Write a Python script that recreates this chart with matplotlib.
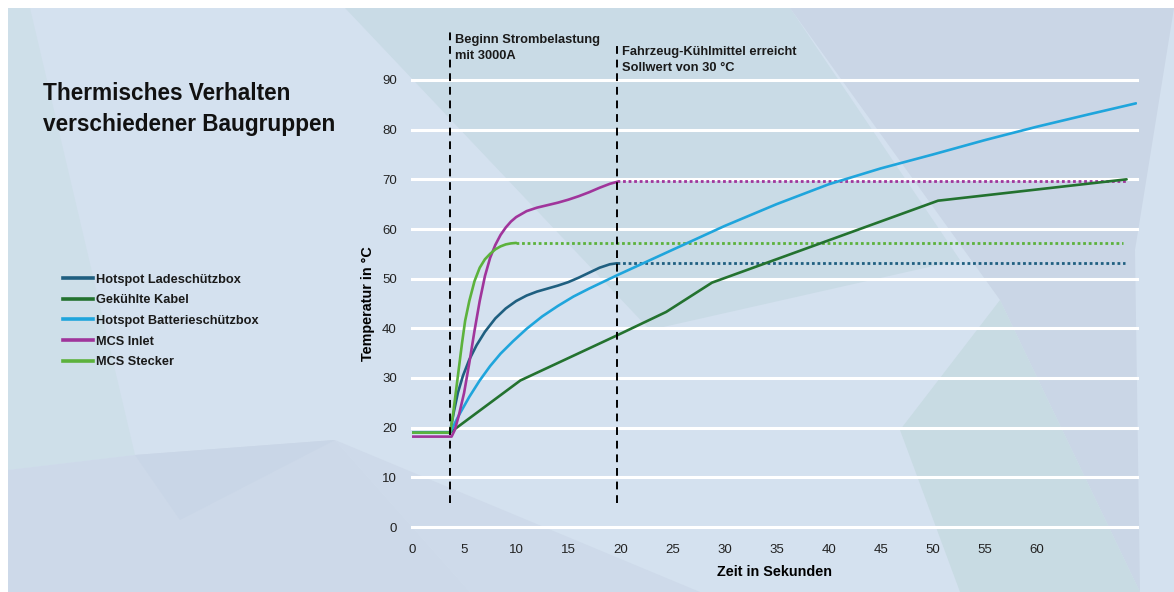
import matplotlib
matplotlib.use("Agg")
import matplotlib.pyplot as plt
from matplotlib.patches import Polygon
from matplotlib.lines import Line2D

# ---------------- data ----------------
x_ticks = [0, 5, 10, 15, 20, 25, 30, 35, 40, 45, 50, 55, 60]
y_ticks = [0, 10, 20, 30, 40, 50, 60, 70, 80, 90]

series_names = ["Hotspot Ladeschützbox", "Gekühlte Kabel", "Hotspot Batterieschützbox",
                "MCS Inlet", "MCS Stecker"]

lade_x = [0, 3.65, 4.0, 4.4, 4.9, 5.5, 6.2, 7, 8, 9, 10, 11, 12, 13, 14, 15, 16, 17, 18,
          19, 19.7]
lade_y = [19, 19, 23, 27, 30.5, 33.7, 36.6, 39.3, 42, 44, 45.5, 46.6, 47.4, 48, 48.6,
          49.3, 50.2, 51.2, 52.2, 52.9, 53.1]

kabel_x = [0, 3.65, 10.4, 19.7, 24.4, 28.8, 50.5, 68.6]
kabel_y = [19, 19, 29.5, 38.6, 43.3, 49.2, 65.7, 70.0]

batt_x = [0, 3.65, 4.5, 5.5, 6.5, 7.5, 8.5, 9.7, 11, 12.5, 14, 15.5, 17, 18.5, 19.7, 25,
          30, 35, 40, 45, 50, 55, 60, 65, 69.5]
batt_y = [19, 19, 22.5, 26.2, 29.5, 32.4, 34.9, 37.4, 39.9, 42.4, 44.5, 46.4, 48.0, 49.5,
          50.7, 55.8, 60.6, 65.0, 69.0, 72.2, 75.0, 77.9, 80.6, 83.1, 85.3]

inlet_x = [0, 3.8, 4.1, 4.5, 5, 5.5, 6, 6.5, 7, 7.5, 8, 8.5, 9, 9.5, 10, 11, 12, 13, 14,
           15, 16, 17, 18, 19, 19.7]
inlet_y = [18.2, 18.2, 19.5, 22.5, 27, 33, 39.5, 45.5, 50.5, 54.2, 56.8, 58.8, 60.3, 61.5,
           62.4, 63.6, 64.3, 64.8, 65.3, 65.9, 66.6, 67.4, 68.3, 69.1, 69.5]

stecker_x = [0, 3.65, 3.9, 4.2, 4.5, 4.8, 5.1, 5.5, 6, 6.5, 7, 7.5, 8, 8.5, 9, 9.5, 10]
stecker_y = [19, 19, 22, 27, 32, 37, 41.5, 45.5, 49.5, 52.2, 53.9, 55, 55.9, 56.5, 56.9,
             57.1, 57.2]

# dotted continuation levels (start, end, level)
lade_hold = (19.7, 68.4, 53.2)
inlet_hold = (19.7, 68.6, 69.7)
stecker_hold = (10.0, 68.3, 57.2)

event_x = [3.65, 19.7]
event_labels = ["Beginn Strombelastung\nmit 3000A",
                "Fahrzeug-Kühlmittel erreicht\nSollwert von 30 °C"]

title = "Thermisches Verhalten\nverschiedener Baugruppen"
x_label = "Zeit in Sekunden"
y_label = "Temperatur in °C"

colors = ["#1f5f80", "#23722f", "#1fa5dc", "#a0359b", "#5cb23c"]

FONT = ["Liberation Sans", "DejaVu Sans"]

# ---------------- figure ----------------
W, H = 1174, 592
fig = plt.figure(figsize=(W / 100, H / 100), dpi=100)
fig.patch.set_facecolor("white")

# decorative low-poly background (figure pixel coords, y from top)
bg = fig.add_axes([0, 0, 1, 1], zorder=-10)
bg.set_xlim(0, W)
bg.set_ylim(H, 0)
bg.axis("off")

def poly(pts, color):
    bg.add_patch(Polygon(pts, closed=True, facecolor=color, edgecolor="none"))

poly([(8, 8), (W, 8), (W, H), (8, H)], "#d4e1ef")
poly([(8, 8), (30, 8), (135, 455), (8, 470)], "#cedfe9")
poly([(8, 470), (135, 455), (335, 440), (470, H), (8, H)], "#cdd9e9")
poly([(135, 455), (335, 440), (180, 520)], "#c9d6e7")
poly([(345, 8), (790, 8), (960, 260), (650, 330)], "#c9dbe6")
poly([(790, 8), (W, 8), (W, H), (1140, H), (1000, 300)], "#cad6e6")
poly([(1000, 300), (1140, H), (960, H), (900, 430)], "#c8dbe3")
poly([(1135, 250), (W, 8), (W, H), (1140, H)], "#d4e1ef")
poly([(470, H), (335, 440), (700, 592)], "#cedaea")

# main axes
ax = fig.add_axes([412 / W, 1 - 527 / H, (1137 - 412) / W, (527 - 80) / H])
ax.set_facecolor("none")
ax.set_xlim(0, 69.6)
ax.set_ylim(0, 90)
for s in ax.spines.values():
    s.set_visible(False)

for yt in y_ticks:
    ax.axhline(yt, color="white", lw=2.2, zorder=1, clip_on=False)

ax.set_xticks(x_ticks)
ax.set_yticks(y_ticks)
ax.tick_params(length=0, labelsize=9.5, colors="#222222")
ax.tick_params(axis="y", pad=11)
ax.tick_params(axis="x", pad=12)
for lab in ax.get_xticklabels() + ax.get_yticklabels():
    lab.set_family(FONT)

ax.set_xlabel(x_label, fontsize=10.4, fontweight="bold", labelpad=7, family=FONT)
ax.set_ylabel(y_label, fontsize=10.4, fontweight="bold", labelpad=5, family=FONT)

# series
xs = [lade_x, kabel_x, batt_x, inlet_x, stecker_x]
ys = [lade_y, kabel_y, batt_y, inlet_y, stecker_y]
order = [1, 2, 0, 3, 4]
for i in order:
    ax.plot(xs[i], ys[i], color=colors[i], lw=1.9, zorder=3 + i,
            solid_capstyle="round", solid_joinstyle="round")

for (x0, x1, lvl), c in zip([lade_hold, inlet_hold, stecker_hold],
                            [colors[0], colors[3], colors[4]]):
    ax.plot([x0, x1], [lvl, lvl], color=c, lw=2, linestyle=(0, (1, 1)), zorder=2)

# event lines
tops = [100.0, 97.0]
text_y = [99.3, 96.9]
for ex, lbl, top, ty in zip(event_x, event_labels, tops, text_y):
    ax.plot([ex, ex], [4.8, top], color="black", lw=1.4, linestyle=(0, (4, 3)),
            clip_on=False, zorder=8)
    ax.text(ex + 0.45, ty, lbl, fontsize=9.3, fontweight="bold", va="top",
            ha="left", linespacing=1.45, color="#1a1a1a", family=FONT)

# title
fig.text(43 / W, 1 - 82 / H, title, fontsize=16.3, fontweight="bold", va="top", ha="left",
         color="#111111", linespacing=1.45, family=FONT)

# legend
handles = [Line2D([0], [0], color=colors[i], lw=2.6) for i in range(5)]
leg = fig.legend(handles, series_names, loc="upper left",
                 bbox_to_anchor=(51 / W, 1 - 262 / H), frameon=False,
                 handlelength=2.4, handletextpad=0.2, labelspacing=0.68,
                 prop={"family": FONT, "weight": "bold", "size": 9.2})
for t in leg.get_texts():
    t.set_color("#1a1a1a")

fig.savefig("out.png", dpi=100, facecolor=fig.get_facecolor())
